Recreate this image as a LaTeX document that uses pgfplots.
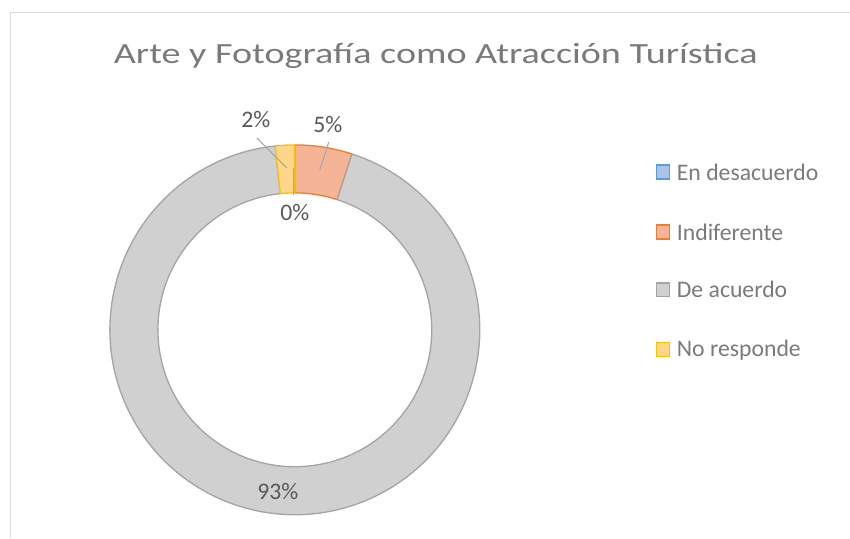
\documentclass[border=0pt]{standalone}
\usepackage{pgfplots}
\pgfplotsset{compat=1.18}
\usepackage{fontspec}
\setmainfont{Carlito}
\definecolor{titlec}{HTML}{7A7A7A}
\definecolor{txtc}{HTML}{595959}
\definecolor{framec}{HTML}{D9D9D9}
\definecolor{leadc}{HTML}{A6A6A6}
\definecolor{bluef}{HTML}{A9C4E8}\definecolor{blued}{HTML}{5B9BD5}
\definecolor{orangef}{HTML}{F5B496}\definecolor{oranged}{HTML}{ED7D31}
\definecolor{grayf}{HTML}{D0D0D0}\definecolor{grayd}{HTML}{A5A5A5}
\definecolor{yellowf}{HTML}{FFD68A}\definecolor{yellowd}{HTML}{FFC000}
% data (percent)
\def\vA{0}    % En desacuerdo
\def\vB{5.0}  % Indiferente
\def\vC{93.3} % De acuerdo
\def\vD{1.7}  % No responde
\pgfmathsetmacro\tot{\vA+\vB+\vC+\vD}
\pgfmathsetmacro\k{360/\tot}
\pgfmathsetmacro\aA{90}
\pgfmathsetmacro\aB{\aA-\k*\vA}
\pgfmathsetmacro\aC{\aB-\k*\vB}
\pgfmathsetmacro\aD{\aC-\k*\vC}
\pgfmathsetmacro\aE{\aD-\k*\vD}
\def\Ro{138.75pt}
\def\Ri{102.75pt}
\newcommand\seg[4]{% fill, draw, start, end
  \filldraw[fill=#1, draw=#2, line width=1pt, line join=round, shift={(axis cs:295,208)}]
    (#3:\Ro) arc[start angle=#3, end angle=#4, radius=\Ro] -- (#4:\Ri)
    arc[start angle=#4, end angle=#3, radius=\Ri] -- cycle;}
\begin{document}
\begin{tikzpicture}
\begin{axis}[scale only axis, width=637.5pt, height=403.5pt,
  xmin=0, xmax=850, ymin=0, ymax=538, hide axis, clip=false]
\path (axis cs:0,0) rectangle (axis cs:850,538);
\draw[framec, line width=0.75pt] (axis cs:11,0) -- (axis cs:11,525) -- (axis cs:850,525);
% title
\node[anchor=base, text=titlec, font=\fontsize{22}{26}\selectfont, inner sep=0pt] at (axis cs:436,474)
  {\scalebox{1.3}[1]{Arte y Fotografía como Atracción Turística}};
% donut
\seg{orangef}{oranged}{\aB}{\aC}
\seg{grayf}{grayd}{\aC}{\aD}
\seg{yellowf}{yellowd}{\aD}{\aE}
% leader lines
\draw[leadc, line width=0.75pt] (axis cs:294,370) -- (axis cs:294,343);
\draw[leadc, line width=0.75pt] (axis cs:329,396) -- (axis cs:320,368);
\draw[leadc, line width=0.75pt] (axis cs:257,400) -- (axis cs:287,370);
% data labels
\tikzset{dl/.style={text=txtc, font=\fontsize{17.8}{21}\selectfont, inner sep=0pt}}
\node[dl] at (axis cs:295,325) {0\%};
\node[dl] at (axis cs:328,413) {5\%};
\node[dl] at (axis cs:256,418) {2\%};
\node[dl] at (axis cs:278,46) {93\%};
% legend
\tikzset{lg/.style={text=titlec, font=\fontsize{17.8}{21}\selectfont, anchor=west, inner sep=0pt}}
\filldraw[fill=bluef, draw=blued, line width=1pt] (axis cs:657,359) rectangle (axis cs:670,373);
\node[lg] at (axis cs:677,366) {En desacuerdo};
\filldraw[fill=orangef, draw=oranged, line width=1pt] (axis cs:657,299) rectangle (axis cs:670,313);
\node[lg] at (axis cs:677,306) {Indiferente};
\filldraw[fill=grayf, draw=grayd, line width=1pt] (axis cs:657,241) rectangle (axis cs:670,255);
\node[lg] at (axis cs:677,248) {De acuerdo};
\filldraw[fill=yellowf, draw=yellowd, line width=1pt] (axis cs:657,181) rectangle (axis cs:670,195);
\node[lg] at (axis cs:677,188) {No responde};
\end{axis}
\end{tikzpicture}
\end{document}
